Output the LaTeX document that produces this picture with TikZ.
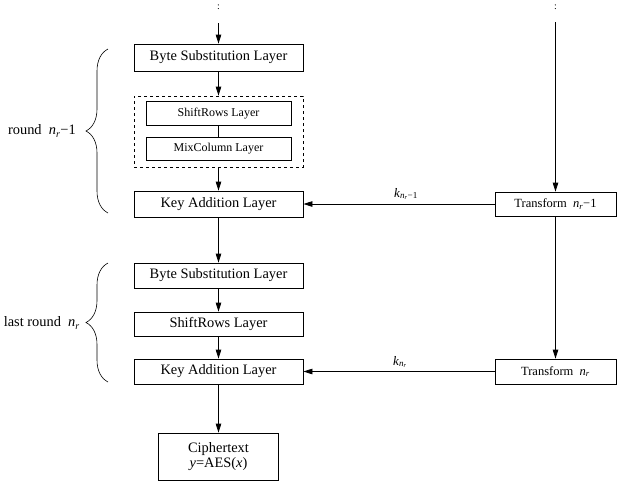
\documentclass[tikz,border=0pt]{standalone}
\usepackage{fontspec}
\setmainfont{Liberation Serif}
\usetikzlibrary{arrows.meta,decorations.pathreplacing}
\newcommand{\nrr}{\textit{n}\textsubscript{\textit{r}}}
\begin{document}
\begin{tikzpicture}[x=1pt,y=-1pt,
  layer/.style={draw,line width=0.8pt,inner sep=0pt,minimum width=169pt,
    font=\fontsize{14.4}{16}\selectfont},
  sublayer/.style={draw,line width=0.8pt,inner sep=0pt,minimum width=145pt,
    font=\fontsize{12}{14}\selectfont},
  keybox/.style={draw,line width=0.8pt,inner sep=0pt,minimum width=121pt,
    font=\fontsize{12.5}{14}\selectfont},
  flow/.style={line width=0.8pt,-{Triangle[length=9pt,width=5.5pt]}},
  plain/.style={line width=0.8pt},
  curly/.style={decorate,decoration={brace,amplitude=22pt},line width=0.6pt},
  lbl/.style={font=\fontsize{14.4}{16}\selectfont,inner sep=0pt},
  keylbl/.style={font=\fontsize{13}{14}\selectfont,inner sep=0pt,anchor=base west},
  dots/.style={font=\fontsize{10}{10}\selectfont,inner sep=0pt}]
\useasboundingbox (0,0) rectangle (619,483);

% round n_r - 1
\node[layer,minimum height=27pt] (bs1) at (218.5,57.5) {Byte Substitution Layer};
\node[draw,dashed,line width=0.8pt,minimum width=169pt,minimum height=71pt,inner sep=0pt] (grp) at (218.5,131.5) {};
\node[sublayer,minimum height=24pt] (sr1) at (218.5,113.5) {ShiftRows Layer};
\node[sublayer,minimum height=23pt] (mc1) at (218.5,148.5) {MixColumn Layer};
\node[layer,minimum height=26pt] (ka1) at (218.5,204) {Key Addition Layer};

% last round n_r
\node[layer,minimum height=25pt] (bs2) at (218.5,275.5) {Byte Substitution Layer};
\node[layer,minimum height=24pt] (sr2) at (218.5,324) {ShiftRows Layer};
\node[layer,minimum height=25pt] (ka2) at (218.5,371.5) {Key Addition Layer};

% output
\node[layer,minimum width=120pt,minimum height=47pt,align=center] (ct) at (218.5,456.5)
  {Ciphertext\\[-1pt]\textit{y}=AES(\textit{x})};

% key schedule
\node[keybox,minimum height=24pt] (t1) at (555.5,204) {Transform\ \ \nrr−1};
\node[keybox,minimum height=25pt] (t2) at (555.5,371.5) {Transform\ \ \nrr};

% continuation marks and free line ends
\node[dots] (d1) at (218.5,7) {:};
\node[dots] (d2) at (555.5,7) {:};
\coordinate (in1) at (218.5,23);
\coordinate (in2) at (555.5,22);

% data path
\draw[flow] (in1) -- (bs1.north);
\draw[flow] (bs1.south) -- (grp.north);
\draw[plain] (sr1.south) -- (mc1.north);
\draw[flow] (grp.south) -- (ka1.north);
\draw[flow] (ka1.south) -- (bs2.north);
\draw[flow] (bs2.south) -- (sr2.north);
\draw[flow] (sr2.south) -- (ka2.north);
\draw[flow] (ka2.south) -- (ct.north);

% key path
\draw[flow] (in2) -- (t1.north);
\draw[flow] (t1.south) -- (t2.north);
\draw[flow] (t1.west) -- (ka1.east);
\draw[flow] (t2.west) -- (ka2.east);
\node[keylbl] (k1) at (394,197)
  {\textit{k}\textsubscript{\textit{n}\textsubscript{\textit{r}}−1}};
\node[keylbl] (k2) at (393,365)
  {\textit{k}\textsubscript{\textit{n}\textsubscript{\textit{r}}}};

% round braces
\draw[curly] (108,213) -- (108,49);
\draw[curly] (108,382) -- (108,263);
\node[lbl,anchor=east] (r1) at (76,131) {round\ \ \nrr−1};
\node[lbl,anchor=east] (r2) at (80,323) {last round\ \ \nrr};
\end{tikzpicture}
\end{document}
